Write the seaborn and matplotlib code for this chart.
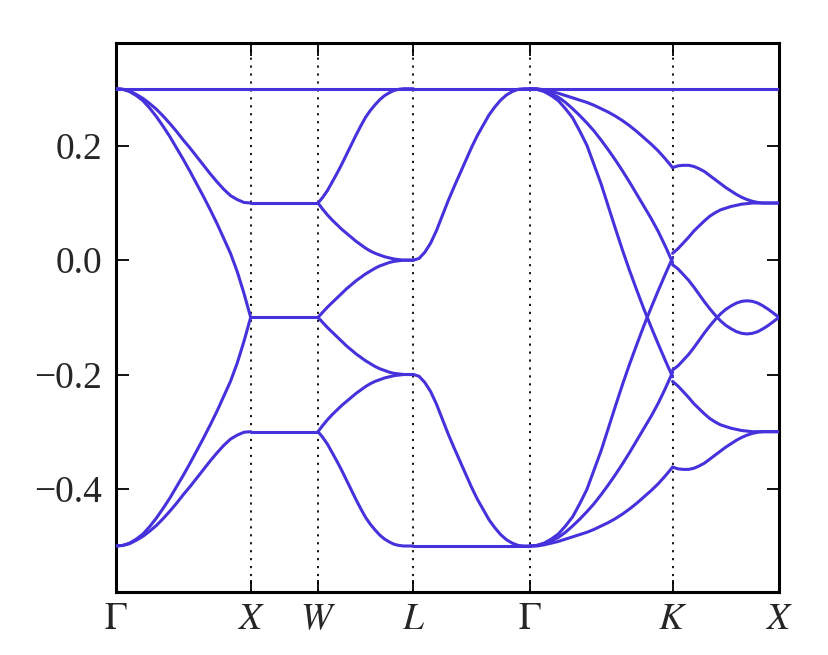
import numpy as np
import pandas as pd
import matplotlib
matplotlib.use("Agg")
import matplotlib.pyplot as plt
import seaborn as sns

# ===================== path & labels =====================
kpath_labels = [r"$\Gamma$", r"$X$", r"$W$", r"$L$", r"$\Gamma$", r"$K$", r"$X$"]
kpath_dist = [0.0, 1.0, 1.5, 2.2071, 3.0731, 4.1338, 4.9244]
ytick_vals = [-0.4, -0.2, 0.0, 0.2]

flat_level = 0.3

# fraction along each segment where the energies were read
frac = [0.0, 0.05, 0.1, 0.15, 0.2, 0.25, 0.3, 0.35, 0.4, 0.45, 0.5,
        0.55, 0.6, 0.65, 0.7, 0.75, 0.8, 0.85, 0.9, 0.95, 1.0]

# ---- Gamma -> X ----
gx_a = [0.300, 0.299, 0.296, 0.290, 0.283, 0.274, 0.264, 0.252, 0.239, 0.225, 0.210,
        0.196, 0.181, 0.166, 0.151, 0.137, 0.124, 0.113, 0.106, 0.101, 0.100]
gx_b = [0.300, 0.299, 0.295, 0.288, 0.279, 0.266, 0.251, 0.234, 0.216, 0.196, 0.176,
        0.155, 0.133, 0.111, 0.088, 0.064, 0.038, 0.012, -0.020, -0.058, -0.100]
gx_c = [-0.500, -0.499, -0.495, -0.488, -0.479, -0.466, -0.451, -0.434, -0.416, -0.396, -0.376,
        -0.355, -0.333, -0.311, -0.288, -0.264, -0.238, -0.212, -0.180, -0.142, -0.100]
gx_d = [-0.500, -0.499, -0.496, -0.490, -0.483, -0.474, -0.464, -0.452, -0.439, -0.425, -0.410,
        -0.396, -0.381, -0.366, -0.351, -0.337, -0.324, -0.313, -0.306, -0.301, -0.300]

# ---- X -> W (flat) ----
xw_levels = [0.1, -0.1, -0.3]

# ---- W -> L ----
wl_1 = [0.100, 0.110, 0.122, 0.137, 0.152, 0.168, 0.185, 0.202, 0.219, 0.235, 0.250,
        0.262, 0.272, 0.281, 0.288, 0.293, 0.297, 0.299, 0.300, 0.300, 0.300]
wl_2 = [0.100, 0.089, 0.079, 0.070, 0.062, 0.054, 0.047, 0.040, 0.033, 0.027, 0.021,
        0.016, 0.012, 0.009, 0.006, 0.004, 0.002, 0.001, 0.000, 0.000, 0.000]
wl_3 = [-0.100, -0.091, -0.082, -0.074, -0.066, -0.058, -0.050, -0.043, -0.036, -0.030, -0.024,
        -0.019, -0.014, -0.010, -0.007, -0.004, -0.002, -0.001, 0.000, 0.000, 0.000]
wl_4 = [-0.100, -0.109, -0.118, -0.126, -0.134, -0.142, -0.150, -0.157, -0.164, -0.170, -0.176,
        -0.181, -0.186, -0.190, -0.193, -0.196, -0.198, -0.199, -0.200, -0.200, -0.200]
wl_5 = [-0.300, -0.289, -0.279, -0.270, -0.262, -0.254, -0.247, -0.240, -0.233, -0.227, -0.221,
        -0.216, -0.212, -0.209, -0.206, -0.204, -0.202, -0.201, -0.200, -0.200, -0.200]
wl_6 = [-0.300, -0.310, -0.322, -0.337, -0.352, -0.368, -0.385, -0.402, -0.419, -0.435, -0.450,
        -0.462, -0.472, -0.481, -0.488, -0.493, -0.497, -0.499, -0.500, -0.500, -0.500]

# ---- L -> Gamma ----
lg_up = [0.000, 0.003, 0.014, 0.030, 0.052, 0.078, 0.104, 0.128, 0.151, 0.174, 0.197,
         0.218, 0.236, 0.254, 0.268, 0.280, 0.289, 0.295, 0.299, 0.300, 0.300]
lg_down = [-0.200, -0.203, -0.214, -0.230, -0.252, -0.278, -0.304, -0.328, -0.351, -0.374, -0.397,
           -0.418, -0.436, -0.454, -0.468, -0.480, -0.489, -0.495, -0.499, -0.500, -0.500]
lg_bottom = -0.5

# ---- Gamma -> K ----
gk_t1 = [0.300, 0.300, 0.298, 0.295, 0.292, 0.288, 0.284, 0.280, 0.276, 0.271, 0.265,
         0.259, 0.252, 0.244, 0.235, 0.225, 0.214, 0.203, 0.191, 0.177, 0.162]
gk_t2 = [0.300, 0.299, 0.296, 0.291, 0.285, 0.276, 0.265, 0.253, 0.240, 0.226, 0.210,
         0.193, 0.175, 0.156, 0.136, 0.115, 0.094, 0.073, 0.050, 0.024, -0.004]
gk_t3 = [0.300, 0.299, 0.295, 0.288, 0.279, 0.265, 0.249, 0.226, 0.201, 0.167, 0.133,
         0.094, 0.055, 0.017, -0.019, -0.053, -0.086, -0.117, -0.147, -0.176, -0.204]
gk_b1 = [-0.500, -0.500, -0.498, -0.495, -0.492, -0.488, -0.484, -0.480, -0.476, -0.471, -0.465,
         -0.459, -0.452, -0.444, -0.435, -0.425, -0.414, -0.403, -0.391, -0.377, -0.362]
gk_b2 = [-0.500, -0.499, -0.496, -0.491, -0.485, -0.476, -0.465, -0.453, -0.440, -0.426, -0.410,
         -0.393, -0.375, -0.356, -0.336, -0.315, -0.294, -0.273, -0.250, -0.224, -0.196]
gk_b3 = [-0.500, -0.499, -0.495, -0.488, -0.479, -0.465, -0.449, -0.426, -0.401, -0.367, -0.333,
         -0.294, -0.255, -0.217, -0.181, -0.147, -0.114, -0.083, -0.053, -0.024, 0.004]

# ---- K -> X ----
kx_u1 = [0.162, 0.165, 0.166, 0.166, 0.164, 0.160, 0.155, 0.148, 0.141, 0.134, 0.127,
         0.121, 0.115, 0.110, 0.106, 0.103, 0.101, 0.100, 0.100, 0.100, 0.100]
kx_u2 = [0.012, 0.020, 0.030, 0.040, 0.051, 0.060, 0.069, 0.077, 0.083, 0.088, 0.091,
         0.094, 0.096, 0.098, 0.099, 0.100, 0.100, 0.100, 0.100, 0.100, 0.100]
kx_u3 = [-0.008, -0.015, -0.025, -0.035, -0.047, -0.060, -0.073, -0.085, -0.096, -0.106, -0.114,
         -0.120, -0.125, -0.128, -0.129, -0.128, -0.125, -0.120, -0.114, -0.107, -0.100]
kx_u4 = [-0.192, -0.185, -0.175, -0.165, -0.153, -0.140, -0.127, -0.115, -0.104, -0.094, -0.086,
         -0.080, -0.075, -0.072, -0.071, -0.072, -0.075, -0.080, -0.086, -0.093, -0.100]
kx_u5 = [-0.212, -0.220, -0.230, -0.240, -0.251, -0.260, -0.269, -0.277, -0.283, -0.288, -0.291,
         -0.294, -0.296, -0.298, -0.299, -0.300, -0.300, -0.300, -0.300, -0.300, -0.300]
kx_u6 = [-0.362, -0.365, -0.366, -0.366, -0.364, -0.360, -0.355, -0.348, -0.341, -0.334, -0.327,
         -0.321, -0.315, -0.310, -0.306, -0.303, -0.301, -0.300, -0.300, -0.300, -0.300]

# ===================== build table =====================
rows = []

def add_curve(name, seg, fr, energies):
    k0, k1 = kpath_dist[seg], kpath_dist[seg + 1]
    for f, e in zip(fr, energies):
        rows.append((name, k0 + f * (k1 - k0), e))

# flat band over the whole path
rows.append(("flat", kpath_dist[0], flat_level))
rows.append(("flat", kpath_dist[-1], flat_level))

for i, e in enumerate([gx_a, gx_b, gx_c, gx_d]):
    add_curve(f"gx{i}", 0, frac, e)
for i, lev in enumerate(xw_levels):
    add_curve(f"xw{i}", 1, [0.0, 1.0], [lev, lev])
for i, e in enumerate([wl_1, wl_2, wl_3, wl_4, wl_5, wl_6]):
    add_curve(f"wl{i}", 2, frac, e)
add_curve("lg_up", 3, frac, lg_up)
add_curve("lg_down", 3, frac, lg_down)
add_curve("lg_bottom", 3, [0.0, 1.0], [lg_bottom, lg_bottom])
for i, e in enumerate([gk_t1, gk_t2, gk_t3, gk_b1, gk_b2, gk_b3]):
    add_curve(f"gk{i}", 4, frac, e)
for i, e in enumerate([kx_u1, kx_u2, kx_u3, kx_u4, kx_u5, kx_u6]):
    add_curve(f"kx{i}", 5, frac, e)

bands = pd.DataFrame(rows, columns=["band", "k", "energy"])

# ===================== plot =====================
sns.set_style("ticks")
plt.rcParams["font.family"] = ["Liberation Serif", "DejaVu Serif"]
plt.rcParams["mathtext.fontset"] = "stix"
plt.rcParams["axes.unicode_minus"] = True

fig = plt.figure(figsize=(8.29, 6.55), dpi=100)
ax = fig.add_axes([0.140, 0.0966, 0.7997, 0.8378])

for kk in kpath_dist[1:-1]:
    ax.axvline(kk, color="black", lw=1.3, ls=(0, (1.2, 3.2)), zorder=1)

sns.lineplot(
    data=bands, x="k", y="energy", units="band", estimator=None, sort=False,
    color="#4632DC", lw=2.2, ax=ax, legend=False, zorder=3,
    solid_capstyle="round", solid_joinstyle="round"
)

ax.set_xlim(kpath_dist[0], kpath_dist[-1])
ax.set_ylim(-0.58, 0.38)
ax.set_xticks(kpath_dist)
ax.set_xticklabels(kpath_labels)
ax.set_yticks(ytick_vals)
ax.set_yticklabels([f"{v:.1f}".replace("-", "\u2212") for v in ytick_vals])
ax.set_xlabel("")
ax.set_ylabel("")

ax.tick_params(axis="both", direction="in", top=True, right=True,
               length=9, width=1.3, labelsize=27, color="black")
ax.tick_params(axis="x", pad=8)
ax.tick_params(axis="y", pad=10)
for sp in ax.spines.values():
    sp.set_linewidth(2.2)
    sp.set_color("black")
    sp.set_visible(True)

fig.savefig("out.png", dpi=100)
